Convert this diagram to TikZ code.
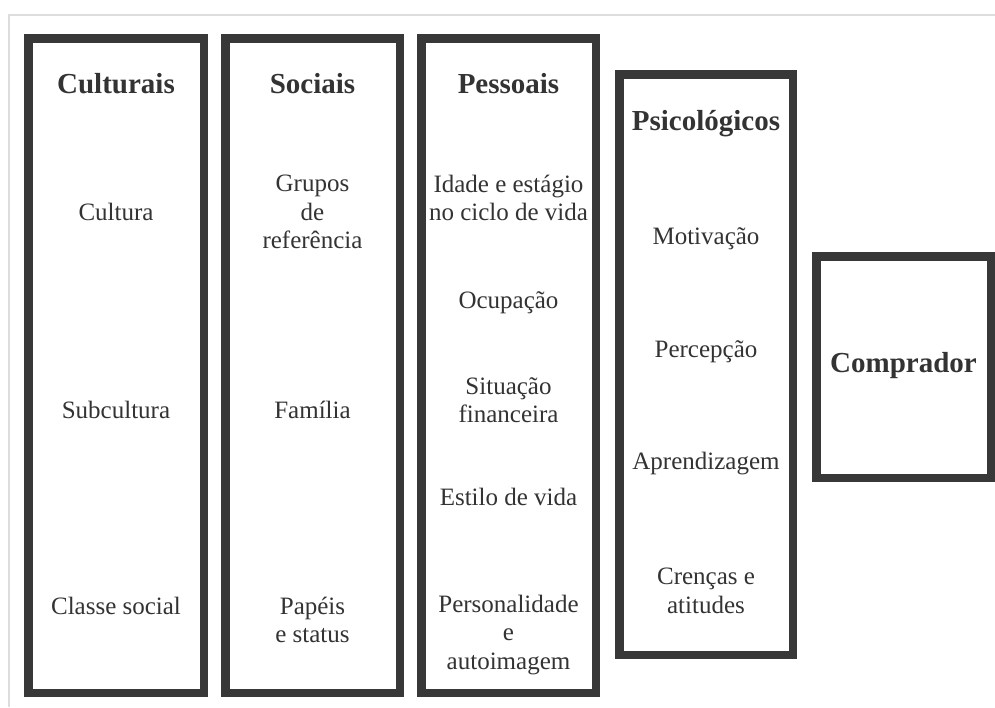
\documentclass[tikz,border=0pt]{standalone}
\usepackage{fontspec}
\setmainfont{Liberation Serif}
\usetikzlibrary{positioning}
\definecolor{boxgray}{HTML}{383838}
\definecolor{txtgray}{HTML}{333333}
\definecolor{framegray}{HTML}{DDDDDD}
\tikzset{
  fatbox/.style={draw=boxgray, line width=8.5pt, fill=white, inner sep=0pt},
  title/.style={text=txtgray, font=\fontsize{29}{34}\selectfont\bfseries, align=center, inner sep=0pt},
  item/.style={text=txtgray, font=\fontsize{25}{28.5}\selectfont, align=center, inner sep=0pt}
}
\begin{document}
\begin{tikzpicture}[x=1pt,y=-1pt]
\useasboundingbox (0,0) rectangle (995,707);
% thin frame at top and left
\draw [framegray, line width=1.2pt] (995,15) -- (9,15) -- (9,707);

% the five boxes
\node [fatbox, minimum width=175.5pt, minimum height=654.5pt] (cultbox) at (116,365.5) {};
\node [fatbox, minimum width=174.5pt, minimum height=654.5pt] (socbox) at (312.5,365.5) {};
\node [fatbox, minimum width=174.5pt, minimum height=654.5pt] (pessbox) at (508.5,365.5) {};
\node [fatbox, minimum width=173.5pt, minimum height=580.5pt] (psicbox) at (706,364.5) {};
\node [fatbox, minimum width=174.5pt, minimum height=221.5pt] (compbox) at (903.5,367) {};

% Culturais
\node [title] (culturais) at (116,84) {Culturais};
\node [item] (cultura) at (116,212) {Cultura};
\node [item] (subcultura) at (116,410) {Subcultura};
\node [item] (classe) at (116,606) {Classe social};

% Sociais
\node [title] (sociais) at (312.5,84) {Sociais};
\node [item] (grupos) at (312.5,212) {Grupos\\de\\referência};
\node [item] (familia) at (312.5,410) {Família};
\node [item] (papeis) at (312.5,620) {Papéis\\e status};

% Pessoais
\node [title] (pessoais) at (508.5,84) {Pessoais};
\node [item] (idade) at (508.5,198) {Idade e estágio\\no ciclo de vida};
\node [item] (ocupacao) at (508.5,303) {Ocupação};
\node [item] (situacao) at (508.5,400) {Situação\\financeira};
\node [item] (estilo) at (508.5,497) {Estilo de vida};
\node [item] (personal) at (508.5,635) {Personalidade\\e\\autoimagem};

% Psicologicos
\node [title] (psicologicos) at (706,124) {Psicológicos};
\node [item] (motivacao) at (706,239) {Motivação};
\node [item] (percepcao) at (706,352) {Percepção};
\node [item] (aprend) at (706,464) {Aprendizagem};
\node [item] (crencas) at (706,591) {Crenças e\\atitudes};

% Comprador
\node [title] (comprador) at (903.5,366) {Comprador};
\end{tikzpicture}
\end{document}
